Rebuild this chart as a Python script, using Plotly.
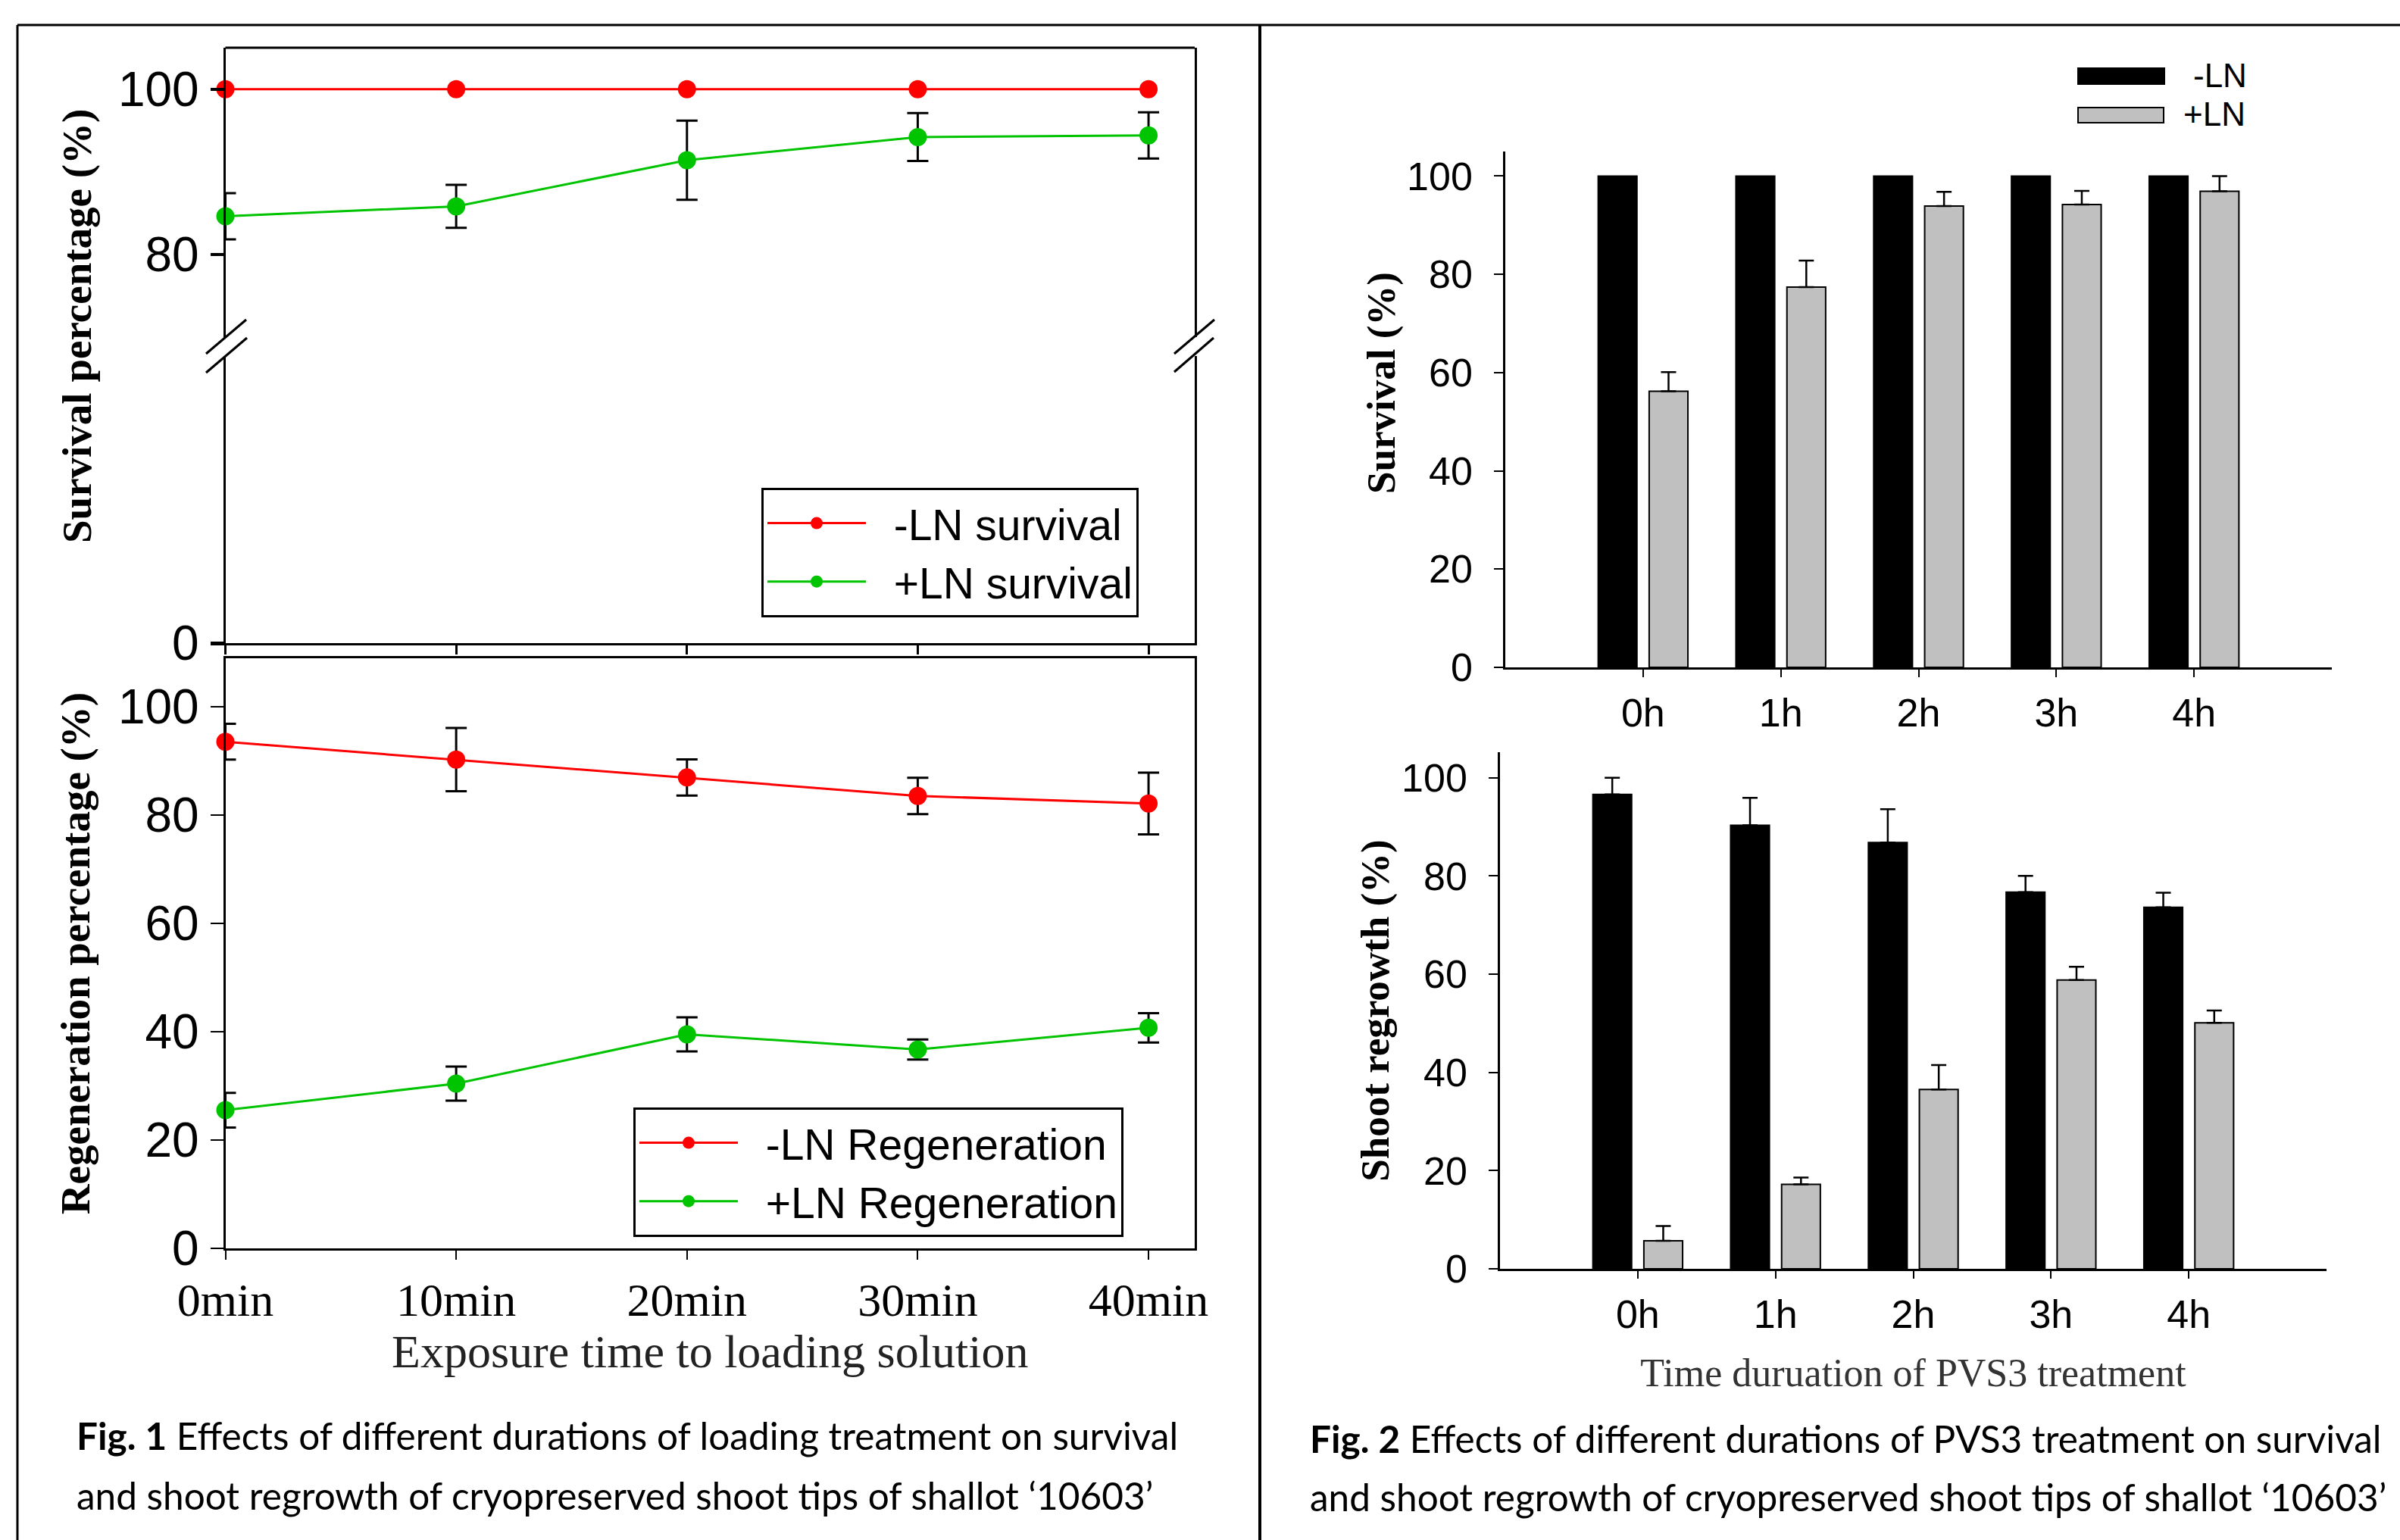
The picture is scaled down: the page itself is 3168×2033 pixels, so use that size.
import plotly.graph_objects as go

W, H = 3168, 2033


def px(x):
    return x / W


def py(y):
    return 1 - y / H


# ---------------- data: Fig. 1 (loading treatment) ----------------
loading_times = ["0min", "10min", "20min", "30min", "40min"]
surv_minus_ln = [100, 100, 100, 100, 100]
surv_plus_ln = [84.6, 85.8, 91.4, 94.2, 94.4]
surv_plus_ln_err = [2.8, 2.6, 4.8, 2.9, 2.8]
regen_minus_ln = [93.5, 90.2, 86.9, 83.5, 82.1]
regen_minus_ln_err = [3.3, 5.85, 3.35, 3.35, 5.7]
regen_plus_ln = [25.5, 30.4, 39.5, 36.7, 40.7]
regen_plus_ln_err = [3.2, 3.15, 3.15, 1.85, 2.7]

# ---------------- data: Fig. 2 (PVS3 treatment) ----------------
pvs3_times = ["0h", "1h", "2h", "3h", "4h"]
survival_minus = [100, 100, 100, 100, 100]
survival_plus = [56.2, 77.4, 93.9, 94.2, 96.9]
survival_plus_err = [3.9, 5.4, 2.9, 2.8, 3.1]
regrowth_minus = [96.6, 90.3, 86.8, 76.7, 73.6]
regrowth_minus_err = [3.4, 5.6, 6.8, 3.3, 3.0]
regrowth_plus = [5.7, 17.2, 36.5, 58.8, 50.1]
regrowth_plus_err = [3.0, 1.4, 5.0, 2.7, 2.5]

RED = "#FF0000"
GREEN = "#00C400"
GREY = "#C0C0C0"
SANS = "Liberation Sans, Arial, sans-serif"
SERIF = "Liberation Serif, Times New Roman, serif"
CAP = "Lato, Open Sans, sans-serif"
NB = "\u00a0\u00a0"  # gap between legend symbol and label

fig = go.Figure()


def err(arr):
    return dict(type="data", array=arr, color="black", thickness=3, width=14)


def err_up(arr):
    return dict(type="data", array=arr, arrayminus=[0] * len(arr), symmetric=False,
                color="black", thickness=2.5, width=10)


# Fig 1 top: survival (broken axis -> drawn on both the upper and lower sections)
for yax, show in (("y", True), ("y2", False)):
    fig.add_trace(go.Scatter(x=loading_times, y=surv_minus_ln, name=NB + "-LN survival",
                             mode="lines+markers", line=dict(color=RED, width=3),
                             marker=dict(color=RED, size=24), xaxis="x", yaxis=yax,
                             legend="legend", showlegend=show, cliponaxis=not show))
    fig.add_trace(go.Scatter(x=loading_times, y=surv_plus_ln, name=NB + "+LN survival",
                             mode="lines+markers", line=dict(color=GREEN, width=3),
                             marker=dict(color=GREEN, size=24),
                             error_y=err(surv_plus_ln_err),
                             xaxis="x", yaxis=yax, legend="legend", showlegend=show,
                             cliponaxis=not show))

# Fig 1 bottom: regeneration
fig.add_trace(go.Scatter(x=loading_times, y=regen_minus_ln, name=NB + "-LN Regeneration",
                         mode="lines+markers", line=dict(color=RED, width=3),
                         marker=dict(color=RED, size=24), error_y=err(regen_minus_ln_err),
                         xaxis="x2", yaxis="y3", legend="legend2", cliponaxis=False))
fig.add_trace(go.Scatter(x=loading_times, y=regen_plus_ln, name=NB + "+LN Regeneration",
                         mode="lines+markers", line=dict(color=GREEN, width=3),
                         marker=dict(color=GREEN, size=24), error_y=err(regen_plus_ln_err),
                         xaxis="x2", yaxis="y3", legend="legend2", cliponaxis=False))

# Fig 2 top: survival bars
fig.add_trace(go.Bar(x=pvs3_times, y=survival_minus, name="-LN",
                     marker=dict(color="black", line=dict(color="black", width=2)),
                     xaxis="x3", yaxis="y4", showlegend=False))
fig.add_trace(go.Bar(x=pvs3_times, y=survival_plus, name="+LN",
                     marker=dict(color=GREY, line=dict(color="black", width=2)),
                     error_y=err_up(survival_plus_err),
                     xaxis="x3", yaxis="y4", showlegend=False))

# Fig 2 bottom: shoot regrowth bars
fig.add_trace(go.Bar(x=pvs3_times, y=regrowth_minus, name="-LN",
                     marker=dict(color="black", line=dict(color="black", width=2)),
                     error_y=err_up(regrowth_minus_err),
                     xaxis="x4", yaxis="y5", showlegend=False))
fig.add_trace(go.Bar(x=pvs3_times, y=regrowth_plus, name="+LN",
                     marker=dict(color=GREY, line=dict(color="black", width=2)),
                     error_y=err_up(regrowth_plus_err),
                     xaxis="x4", yaxis="y5", showlegend=False))

axis_common = dict(showgrid=False, zeroline=False, showline=True, linecolor="black",
                   ticks="outside", tickcolor="black", automargin=False)

f1x = [px(297.5), px(1577)]
fig.update_layout(
    width=W, height=H, margin=dict(l=0, r=0, t=0, b=0),
    paper_bgcolor="white", plot_bgcolor="white",
    barmode="group", bargap=0.26, bargroupgap=0.24,
    # Fig 1 top (upper and lower sections of the broken y axis)
    xaxis=dict(domain=f1x, anchor="y2", type="category", range=[0, 4.2],
               linewidth=3, ticklen=12, tickwidth=3, showticklabels=False, **axis_common),
    yaxis=dict(domain=[py(445), py(63)], anchor="x", range=[69.95, 105.03],
               tickvals=[80, 100], linewidth=3, ticklen=17, tickwidth=4, mirror=True,
               ticklabelstandoff=2, tickfont=dict(family=SANS, size=64, color="black"),
               **axis_common),
    yaxis2=dict(domain=[py(849), py(470)], anchor="x", range=[0, 34.8],
                tickvals=[0], linewidth=3, ticklen=17, tickwidth=5, mirror=True,
                ticklabelstandoff=2, tickfont=dict(family=SANS, size=64, color="black"),
                **axis_common),
    # Fig 1 bottom
    xaxis2=dict(domain=f1x, anchor="y3", type="category", range=[0, 4.2],
                linewidth=3, ticklen=12, tickwidth=2, mirror=True, ticklabelstandoff=0,
                tickfont=dict(family=SERIF, size=62, color="black"),
                title=dict(text="Exposure time to loading solution", standoff=9,
                           font=dict(family=SERIF, size=62, color="#222222")),
                **axis_common),
    yaxis3=dict(domain=[py(1648), py(869)], anchor="x2", range=[0, 108.9],
                tickvals=[0, 20, 40, 60, 80, 100], linewidth=3, ticklen=17, tickwidth=2,
                mirror=True, ticklabelstandoff=2,
                tickfont=dict(family=SANS, size=64, color="black"),
                title=dict(text="Regeneration percentage (%)", standoff=20,
                           font=dict(family=SERIF, size=55, color="black", weight="bold")),
                **axis_common),
    # Fig 2 top
    xaxis3=dict(domain=[px(1987), px(3078)], anchor="y4", type="category", range=[-1, 5],
                linewidth=2.5, ticklen=10, tickwidth=2, ticklabelstandoff=3,
                tickfont=dict(family=SANS, size=52, color="black"), **axis_common),
    yaxis4=dict(domain=[py(881), py(200)], anchor="x3", range=[0, 105],
                tickvals=[0, 20, 40, 60, 80, 100], linewidth=2.5, ticklen=12, tickwidth=2,
                ticklabelstandoff=18, tickfont=dict(family=SANS, size=52, color="black"),
                **axis_common),
    # Fig 2 bottom
    xaxis4=dict(domain=[px(1980), px(3071)], anchor="y5", type="category", range=[-1, 5],
                linewidth=2.5, ticklen=10, tickwidth=2, ticklabelstandoff=3,
                tickfont=dict(family=SANS, size=52, color="black"),
                title=dict(text="Time duruation of PVS3 treatment", standoff=31,
                           font=dict(family=SERIF, size=52, color="#333333")),
                **axis_common),
    yaxis5=dict(domain=[py(1675), py(993)], anchor="x4", range=[0, 105.2],
                tickvals=[0, 20, 40, 60, 80, 100], linewidth=2.5, ticklen=12, tickwidth=2,
                ticklabelstandoff=18, tickfont=dict(family=SANS, size=52, color="black"),
                title=dict(text="Shoot regrowth (%)", standoff=0,
                           font=dict(family=SERIF, size=53, color="black", weight="bold")),
                **axis_common),
    legend=dict(x=px(1005), y=py(644), xanchor="left", yanchor="top",
                bgcolor="white", bordercolor="black", borderwidth=3,
                font=dict(family=SANS, size=57, color="black"), itemwidth=130),
    legend2=dict(x=px(836), y=py(1462), xanchor="left", yanchor="top",
                 bgcolor="white", bordercolor="black", borderwidth=3,
                 font=dict(family=SANS, size=57, color="black"), itemwidth=130),
)

shapes = []


def seg(x0, y0, x1, y1, w=3):
    shapes.append(dict(type="line", xref="paper", yref="paper",
                       x0=px(x0), y0=py(y0), x1=px(x1), y1=py(y1),
                       line=dict(color="black", width=w)))


# outer frames of the composite figure
seg(23, 33, 3168, 33, 3)
seg(23, 33, 23, 2033, 3)
seg(1663, 33, 1663, 2033, 4)
# top border of Fig 1 survival panel
seg(297.5, 63, 1577, 63, 3)
# axis break marks
seg(272, 467, 325, 422, 3)
seg(272, 492, 326, 446, 3)
seg(1550, 467, 1603, 422, 3)
seg(1550, 491, 1602, 446, 3)

# Fig 2 legend swatches
shapes.append(dict(type="rect", xref="paper", yref="paper",
                   x0=px(2743), x1=px(2857), y0=py(111), y1=py(90),
                   fillcolor="black", line=dict(color="black", width=2)))
shapes.append(dict(type="rect", xref="paper", yref="paper",
                   x0=px(2743), x1=px(2856), y0=py(162), y1=py(142),
                   fillcolor=GREY, line=dict(color="black", width=2)))

annotations = [
    dict(text="Survival percentage (%)", x=px(101), y=py(431), xref="paper", yref="paper",
         textangle=-90, showarrow=False, xanchor="center", yanchor="middle",
         font=dict(family=SERIF, size=55, color="black", weight="bold")),
    dict(text="Survival (%)", x=px(1824), y=py(506), xref="paper", yref="paper",
         textangle=-90, showarrow=False, xanchor="center", yanchor="middle",
         font=dict(family=SERIF, size=53, color="black", weight="bold")),
    dict(text="-LN", x=px(2893), y=py(99), xref="paper", yref="paper", showarrow=False,
         xanchor="left", yanchor="middle", font=dict(family=SANS, size=44, color="black")),
    dict(text="+LN", x=px(2880), y=py(150), xref="paper", yref="paper", showarrow=False,
         xanchor="left", yanchor="middle", font=dict(family=SANS, size=44, color="black")),
    dict(text="<b>Fig. 1</b> Effects of different durations of loading treatment on survival",
         x=px(99), y=py(1895), xref="paper", yref="paper", showarrow=False,
         xanchor="left", yanchor="middle", font=dict(family=CAP, size=49.5, color="black")),
    dict(text="and shoot regrowth of cryopreserved shoot tips of shallot \u201810603\u2019",
         x=px(99), y=py(1974), xref="paper", yref="paper", showarrow=False,
         xanchor="left", yanchor="middle", font=dict(family=CAP, size=49.5, color="black")),
    dict(text="<b>Fig. 2</b> Effects of different durations of PVS3 treatment on survival",
         x=px(1727), y=py(1899), xref="paper", yref="paper", showarrow=False,
         xanchor="left", yanchor="middle", font=dict(family=CAP, size=49.5, color="black")),
    dict(text="and shoot regrowth of cryopreserved shoot tips of shallot \u201810603\u2019",
         x=px(1727), y=py(1976), xref="paper", yref="paper", showarrow=False,
         xanchor="left", yanchor="middle", font=dict(family=CAP, size=49.5, color="black")),
]

fig.update_layout(shapes=shapes, annotations=annotations)

fig.write_html("out.html", config={"displayModeBar": False},
               post_script="document.body.style.margin='0px';")
